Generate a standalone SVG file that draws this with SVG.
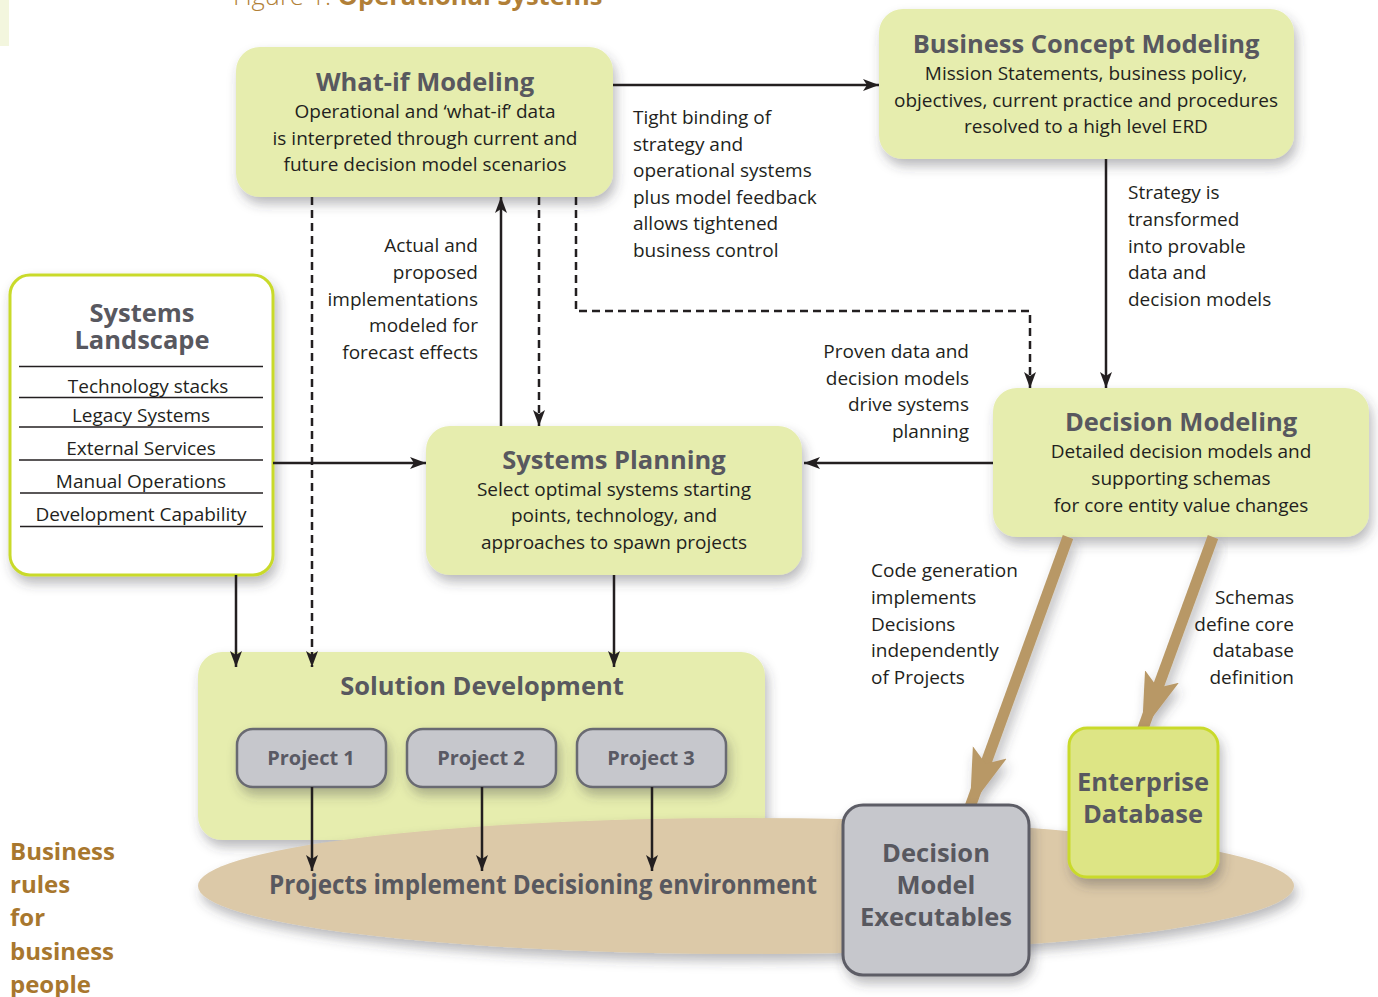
<svg xmlns="http://www.w3.org/2000/svg" width="1378" height="997" viewBox="0 0 1378 997">
  <style>
    text { font-family: "Open Sans", "Noto Sans", "DejaVu Sans", sans-serif; }
    .box { fill: #e6edae; }
    .ttl { font-weight: bold; font-size: 25.5px; fill: #58585f; text-anchor: middle; }
    .body { font-size: 19px; fill: #231f20; text-anchor: middle; }
    .note { font-size: 19px; fill: #231f20; }
    .r { text-anchor: end; }
    .proj { fill: #c6c7cc; stroke: #696a72; stroke-width: 2.5; }
    .ptxt { font-weight: bold; font-size: 20px; fill: #5a5a64; text-anchor: middle; }
    .ln { stroke: #231f20; stroke-width: 2.5; fill: none; }
    .dash { stroke-dasharray: 8 5; }
    .tan { stroke: #b89866; stroke-width: 11; fill: none; }
    .sep { stroke: #231f20; stroke-width: 1.3; }
  </style>
  <defs>
    <filter id="shadow" x="-20%" y="-20%" width="140%" height="160%">
      <feDropShadow dx="3" dy="7" stdDeviation="6" flood-color="#3a3a40" flood-opacity="0.35"/>
    </filter>
    <marker id="arr" markerUnits="userSpaceOnUse" markerWidth="18" markerHeight="14" refX="16" refY="6" orient="auto">
      <path d="M0,0 L16,6 L0,12 L4,6 z" fill="#231f20"/>
    </marker>
    <marker id="tanhead" markerUnits="userSpaceOnUse" markerWidth="64" markerHeight="40" refX="58" refY="20" orient="auto">
      <path d="M0,2 L58,20 L0,38 L12,20 z" fill="#b89866"/>
    </marker>
  </defs>

  <rect width="1378" height="997" fill="#ffffff"/>
  <rect x="0" y="0" width="9" height="46" fill="#f3f6de"/>

  <!-- figure heading -->
  <text x="233" y="5" font-size="25.5" fill="#b17f37"><tspan font-weight="300">Figure 1. </tspan><tspan font-weight="bold">Operational Systems</tspan></text>

  <!-- solution development (behind the environment ellipse) -->
  <g id="solution-development">
    <rect class="box" x="198" y="652" width="567" height="188" rx="24" filter="url(#shadow)"/>
    <text class="ttl" x="482" y="695">Solution Development</text>
  </g>

  <!-- decisioning environment -->
  <g id="decisioning-environment">
    <ellipse cx="746" cy="886" rx="548" ry="68" fill="#dcc9a8" filter="url(#shadow)"/>
    <text x="543" y="894" font-size="26" font-weight="bold" fill="#58585f" text-anchor="middle" textLength="548" lengthAdjust="spacingAndGlyphs">Projects implement Decisioning environment</text>
  </g>

  <g id="project-1">
    <rect class="proj" x="237" y="729" width="149" height="58" rx="16" filter="url(#shadow)"/>
    <text class="ptxt" x="311" y="765">Project 1</text>
  </g>
  <g id="project-2">
    <rect class="proj" x="407" y="729" width="149" height="58" rx="16" filter="url(#shadow)"/>
    <text class="ptxt" x="481" y="765">Project 2</text>
  </g>
  <g id="project-3">
    <rect class="proj" x="577" y="729" width="149" height="58" rx="16" filter="url(#shadow)"/>
    <text class="ptxt" x="651" y="765">Project 3</text>
  </g>

  <g id="what-if-modeling">
    <rect class="box" x="236" y="47" width="377" height="150" rx="24" filter="url(#shadow)"/>
    <text class="ttl" x="425" y="91">What-if Modeling</text>
    <text class="body" x="425" y="118">Operational and ‘what-if’ data</text>
    <text class="body" x="425" y="145">is interpreted through current and</text>
    <text class="body" x="425" y="171">future decision model scenarios</text>
  </g>

  <g id="business-concept-modeling">
    <rect class="box" x="879" y="9" width="415" height="150" rx="24" filter="url(#shadow)"/>
    <text class="ttl" x="1086" y="53">Business Concept Modeling</text>
    <text class="body" x="1086" y="80">Mission Statements, business policy,</text>
    <text class="body" x="1086" y="107">objectives, current practice and procedures</text>
    <text class="body" x="1086" y="133">resolved to a high level ERD</text>
  </g>

  <g id="systems-landscape">
    <rect x="10" y="275" width="263" height="300" rx="20" fill="#ffffff" stroke="#c9da2c" stroke-width="3" filter="url(#shadow)"/>
    <text class="ttl" x="142" y="322">Systems</text>
    <text class="ttl" x="142" y="349">Landscape</text>
    <line class="sep" x1="19" y1="366.5" x2="263" y2="366.5"/>
    <text class="body" x="148" y="393">Technology stacks</text>
    <line class="sep" x1="19" y1="397.5" x2="263" y2="397.5"/>
    <text class="body" x="141" y="422">Legacy Systems</text>
    <line class="sep" x1="19" y1="427" x2="263" y2="427"/>
    <text class="body" x="141" y="455">External Services</text>
    <line class="sep" x1="19" y1="460" x2="263" y2="460"/>
    <text class="body" x="141" y="488">Manual Operations</text>
    <line class="sep" x1="20" y1="493" x2="263" y2="493"/>
    <text class="body" x="141" y="521">Development Capability</text>
    <line class="sep" x1="20" y1="526.5" x2="263" y2="526.5"/>
  </g>

  <g id="systems-planning">
    <rect class="box" x="426" y="426" width="376" height="149" rx="24" filter="url(#shadow)"/>
    <text class="ttl" x="614" y="469">Systems Planning</text>
    <text class="body" x="614" y="496">Select optimal systems starting</text>
    <text class="body" x="614" y="522">points, technology, and</text>
    <text class="body" x="614" y="549">approaches to spawn projects</text>
  </g>

  <g id="decision-modeling">
    <rect class="box" x="993" y="388" width="376" height="149" rx="24" filter="url(#shadow)"/>
    <text class="ttl" x="1181" y="431">Decision Modeling</text>
    <text class="body" x="1181" y="458">Detailed decision models and</text>
    <text class="body" x="1181" y="485">supporting schemas</text>
    <text class="body" x="1181" y="512">for core entity value changes</text>
  </g>

  <!-- connectors -->
  <g id="connectors">
    <path class="ln" d="M613,85 H879" marker-end="url(#arr)"/>
    <path class="ln" d="M1106,159 V388" marker-end="url(#arr)"/>
    <path class="ln dash" d="M576,197 V311 H1030 V388" marker-end="url(#arr)"/>
    <path class="ln dash" d="M312,197 V667" marker-end="url(#arr)"/>
    <path class="ln" d="M501,426 V197" marker-end="url(#arr)"/>
    <path class="ln dash" d="M539,197 V426" marker-end="url(#arr)"/>
    <path class="ln" d="M273,463 H426" marker-end="url(#arr)"/>
    <path class="ln" d="M993,463 H804" marker-end="url(#arr)"/>
    <path class="ln" d="M236,575 V667" marker-end="url(#arr)"/>
    <path class="ln" d="M614,575 V667" marker-end="url(#arr)"/>
    <path class="ln" d="M312,787 V871" marker-end="url(#arr)"/>
    <path class="ln" d="M482,787 V871" marker-end="url(#arr)"/>
    <path class="ln" d="M652,787 V871" marker-end="url(#arr)"/>
    <path class="tan" d="M1068,537 L970,807" marker-end="url(#tanhead)" filter="url(#shadow)"/>
    <path class="tan" d="M1213,537 L1142,731" marker-end="url(#tanhead)" filter="url(#shadow)"/>
  </g>

  <g id="decision-model-executables">
    <rect x="843" y="805" width="186" height="170" rx="20" fill="#c6c7cc" stroke="#5d5d66" stroke-width="3" filter="url(#shadow)"/>
    <text class="ttl" x="936" y="862">Decision</text>
    <text class="ttl" x="936" y="894">Model</text>
    <text class="ttl" x="936" y="926">Executables</text>
  </g>

  <g id="enterprise-database">
    <rect x="1069" y="728" width="149" height="149" rx="18" fill="#dde585" stroke="#c9da2c" stroke-width="3" filter="url(#shadow)"/>
    <text class="ttl" x="1143" y="791">Enterprise</text>
    <text class="ttl" x="1143" y="823">Database</text>
  </g>

  <!-- connector notes -->
  <g id="notes">
    <text class="note" x="633" y="124">Tight binding of</text>
    <text class="note" x="633" y="151">strategy and</text>
    <text class="note" x="633" y="177">operational systems</text>
    <text class="note" x="633" y="204">plus model feedback</text>
    <text class="note" x="633" y="230">allows tightened</text>
    <text class="note" x="633" y="257">business control</text>

    <text class="note" x="1128" y="199">Strategy is</text>
    <text class="note" x="1128" y="226">transformed</text>
    <text class="note" x="1128" y="253">into provable</text>
    <text class="note" x="1128" y="279">data and</text>
    <text class="note" x="1128" y="306">decision models</text>

    <text class="note r" x="478" y="252">Actual and</text>
    <text class="note r" x="478" y="279">proposed</text>
    <text class="note r" x="478" y="306">implementations</text>
    <text class="note r" x="478" y="332">modeled for</text>
    <text class="note r" x="478" y="359">forecast effects</text>

    <text class="note r" x="969" y="358">Proven data and</text>
    <text class="note r" x="969" y="385">decision models</text>
    <text class="note r" x="969" y="411">drive systems</text>
    <text class="note r" x="969" y="438">planning</text>

    <text class="note" x="871" y="577">Code generation</text>
    <text class="note" x="871" y="604">implements</text>
    <text class="note" x="871" y="631">Decisions</text>
    <text class="note" x="871" y="657">independently</text>
    <text class="note" x="871" y="684">of Projects</text>

    <text class="note r" x="1294" y="604">Schemas</text>
    <text class="note r" x="1294" y="631">define core</text>
    <text class="note r" x="1294" y="657">database</text>
    <text class="note r" x="1294" y="684">definition</text>
  </g>

  <g id="business-rules-caption" font-weight="bold" font-size="24" fill="#a8772e">
    <text x="10" y="860">Business</text>
    <text x="10" y="893">rules</text>
    <text x="10" y="926">for</text>
    <text x="10" y="960">business</text>
    <text x="10" y="993">people</text>
  </g>
</svg>
